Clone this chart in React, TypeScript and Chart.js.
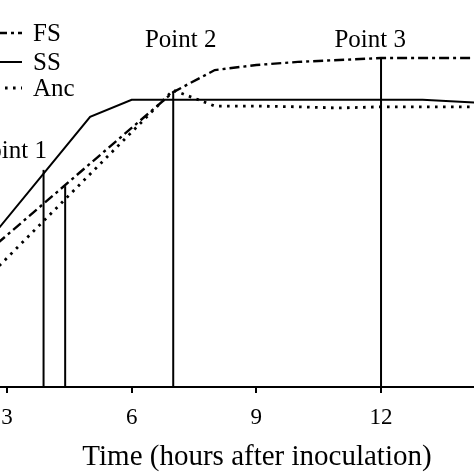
import { useEffect, useRef } from "react";
import { Chart, ChartConfiguration, Plugin, registerables } from "chart.js";

Chart.register(...registerables);

// Series (hours after inoculation, arbitrary growth units)
const seriesNames = ["FS", "SS", "Anc"];
const hoursFS = [2, 7, 8, 9, 10, 12, 14.5];
const valuesFS = [3.0, 7.62, 8.19, 8.32, 8.4, 8.5, 8.5];
const hoursSS = [2, 5, 6, 13, 14.5];
const valuesSS = [3.05, 6.98, 7.42, 7.42, 7.34];
const hoursAnc = [2, 7, 8, 9, 10, 11, 12, 14.5];
const valuesAnc = [2.25, 7.67, 7.26, 7.26, 7.24, 7.21, 7.24, 7.24];

// Vertical sampling markers
const markerHours = [3.88, 4.4, 7.0, 12];
const markerTops = [5.61, 5.19, 7.62, 8.53];

// "Point n" annotations (x in hours, baseline in y units)
const pointNames = ["Point 1", "Point 2", "Point 3"];
const pointLabelHours = [3.1, 7.18, 11.74];
const pointLabelLevels = [5.92, 8.79, 8.79];

const xTicks = [3, 6, 9, 12];
const xTitle = "Time (hours after inoculation)";

const SERIF = '"Liberation Serif", "Times New Roman", serif';
const INK = "#000";

const DASH_FS = [10, 4, 3, 4];
const DASH_ANC = [2.6, 5.4];

const toPoints = (xs: number[], ys: number[]) =>
  xs.map((x, i) => ({ x, y: ys[i] }));

// Legend, point labels and axis title drawn straight on the canvas
const annotations: Plugin = {
  id: "annotations",
  afterDraw(chart) {
    const ctx = chart.ctx;
    const xs = chart.scales.x;
    const ys = chart.scales.y;
    ctx.save();
    ctx.fillStyle = INK;
    ctx.strokeStyle = INK;

    // legend
    const rows = [33, 62, 88];
    const dashes = [DASH_FS, [], DASH_ANC];
    const widths = [2.4, 2, 2.8];
    ctx.font = `25px ${SERIF}`;
    ctx.textBaseline = "middle";
    ctx.textAlign = "left";
    seriesNames.forEach((name, i) => {
      ctx.beginPath();
      ctx.setLineDash(dashes[i]);
      ctx.lineWidth = widths[i];
      ctx.moveTo(-3, rows[i]);
      ctx.lineTo(22, rows[i]);
      ctx.stroke();
      ctx.fillText(name, 33, rows[i] + 1);
    });
    ctx.setLineDash([]);

    // point labels
    ctx.textAlign = "center";
    ctx.textBaseline = "alphabetic";
    pointNames.forEach((name, i) => {
      ctx.fillText(
        name,
        xs.getPixelForValue(pointLabelHours[i]),
        ys.getPixelForValue(pointLabelLevels[i]),
      );
    });

    // axis title (the original axis extends further left, so it sits off-centre)
    ctx.font = `29px ${SERIF}`;
    ctx.fillText(xTitle, 257, 465);
    ctx.restore();
  },
};

const GrowthChart: React.FC = () => {
  const canvasRef = useRef<HTMLCanvasElement>(null);

  useEffect(() => {
    document.body.style.margin = "0";
    if (!canvasRef.current) return;

    const markerSets = markerHours.map((h, i) => ({
      label: `marker${i}`,
      data: toPoints([h, h], [0, markerTops[i]]),
      borderColor: INK,
      borderWidth: 2,
    }));

    const config: ChartConfiguration = {
      type: "line",
      data: {
        datasets: [
          {
            label: seriesNames[0],
            data: toPoints(hoursFS, valuesFS),
            borderColor: INK,
            borderWidth: 2.4,
            borderDash: DASH_FS,
          },
          {
            label: seriesNames[1],
            data: toPoints(hoursSS, valuesSS),
            borderColor: INK,
            borderWidth: 2,
          },
          {
            label: seriesNames[2],
            data: toPoints(hoursAnc, valuesAnc),
            borderColor: INK,
            borderWidth: 2.8,
            borderDash: DASH_ANC,
          },
          ...markerSets,
        ],
      },
      options: {
        animation: false,
        responsive: false,
        layout: { padding: 0 },
        elements: { point: { radius: 0 }, line: { tension: 0 } },
        plugins: { legend: { display: false }, tooltip: { enabled: false } },
        scales: {
          x: {
            type: "linear",
            min: 2.832,
            max: 14.237,
            afterBuildTicks: (scale) => {
              scale.ticks = xTicks.map((value) => ({ value }));
            },
            afterFit: (scale) => {
              scale.height = 87;
              scale.paddingLeft = 0;
              scale.paddingRight = 0;
            },
            grid: {
              drawOnChartArea: false,
              drawTicks: true,
              tickLength: 6,
              color: INK,
              lineWidth: 2,
            },
            border: { display: true, color: INK, width: 2 },
            ticks: {
              color: INK,
              font: { family: SERIF, size: 23 },
              padding: 11,
              maxRotation: 0,
              autoSkip: false,
            },
            title: { display: false },
          },
          y: { type: "linear", min: 0, max: 10, display: false },
        },
      },
      plugins: [annotations],
    };

    const chart = new Chart(canvasRef.current, config);
    return () => chart.destroy();
  }, []);

  return (
    <canvas
      ref={canvasRef}
      width={474}
      height={474}
      style={{ display: "block", width: 474, height: 474 }}
    />
  );
};

export default function App() {
  return <GrowthChart />;
}
